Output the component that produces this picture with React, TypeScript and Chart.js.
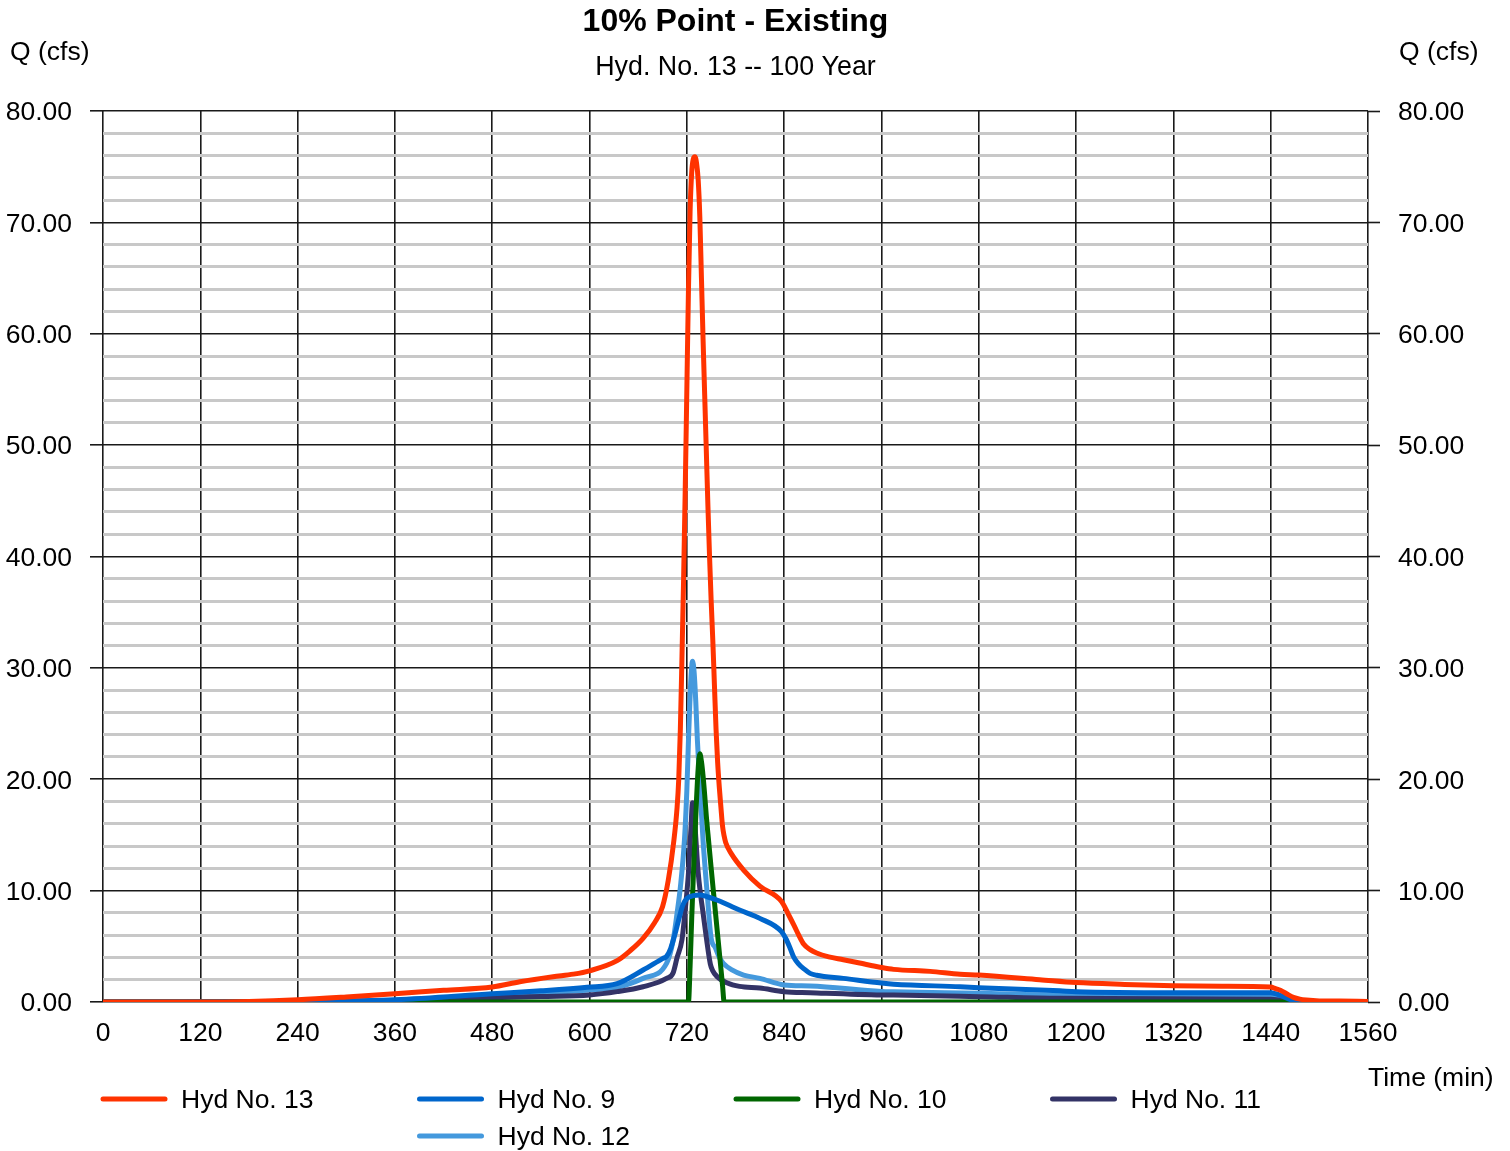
import React, { useEffect, useRef } from 'react';
import { Chart, registerables } from 'chart.js';

Chart.register(...registerables);

const FONT = '"Liberation Sans", Arial, Helvetica, sans-serif';

// Hydrograph ordinates: time (min) and flow (cfs)
const hyd13Time = [0, 120, 180, 240, 300, 360, 420, 480, 514, 555, 580, 600, 634, 650, 666, 680, 690, 697, 704, 708, 710, 712, 714, 716, 718, 720, 722, 724, 726, 728, 730, 732, 734, 736, 738, 740, 742, 744, 746, 748, 750, 752, 754, 756, 758, 760, 762, 764, 766, 768, 775, 790, 810, 837, 845, 852, 858, 864, 872, 880, 895, 913, 933, 960, 975, 1020, 1057, 1080, 1155, 1200, 1260, 1320, 1380, 1440, 1446, 1452, 1460, 1468, 1476, 1484, 1500, 1525, 1560];
const hyd13Flow = [0, 0, 0.05, 0.2, 0.45, 0.74, 1.05, 1.35, 1.82, 2.27, 2.5, 2.8, 3.71, 4.6, 5.72, 7.1, 8.56, 10.9, 14.5, 17.5, 20, 24.5, 31, 38, 46, 55, 64, 71, 74.5, 75.7, 75.9, 75.3, 73.8, 70.5, 65, 59.5, 54.5, 49.5, 44.5, 40, 36, 32.5, 28.5, 24.5, 21.5, 19.3, 17.5, 15.8, 14.9, 14.3, 13.3, 11.85, 10.4, 9.0, 7.9, 6.9, 6.0, 5.2, 4.7, 4.4, 4.05, 3.8, 3.5, 3.1, 2.93, 2.75, 2.5, 2.42, 2.0, 1.74, 1.58, 1.47, 1.42, 1.35, 1.2, 1.05, 0.72, 0.42, 0.26, 0.18, 0.1, 0.08, 0.05];

const hyd9Time = [0, 160, 240, 360, 480, 540, 597, 634, 666, 690, 695, 700, 705, 710, 715, 720, 728, 736, 745, 757, 770, 785, 810, 837, 842, 847, 852, 858, 864, 872, 880, 913, 960, 975, 1057, 1080, 1180, 1200, 1320, 1440, 1446, 1455, 1465, 1478, 1500, 1560];
const hyd9Flow = [0, 0, 0.05, 0.2, 0.74, 1.0, 1.32, 1.65, 2.87, 3.9, 4.1, 4.8, 6.0, 7.4, 8.7, 9.3, 9.55, 9.6, 9.45, 9.16, 8.75, 8.26, 7.51, 6.3, 5.7, 4.9, 4.0, 3.4, 3.0, 2.57, 2.4, 2.12, 1.7, 1.6, 1.37, 1.29, 1.0, 0.93, 0.84, 0.84, 0.75, 0.5, 0.2, 0.03, 0, 0];

const hyd10Time = [0, 722, 724, 726, 728, 730, 732, 734, 736, 738, 740, 742, 744, 746, 750, 754, 758, 762, 764, 766, 1560];
const hyd10Flow = [0, 0, 3.2, 7.5, 11.3, 14.9, 18.3, 21.0, 22.3, 21.6, 20.3, 18.6, 16.7, 15.1, 12.0, 9.0, 6.0, 3.0, 1.5, 0, 0];

const hyd11Time = [0, 240, 360, 452, 480, 540, 600, 634, 666, 695, 703, 708, 714, 718, 722, 725, 727, 729, 731, 734, 737, 740, 744, 749, 752, 757, 770, 785, 810, 840, 872, 960, 975, 1080, 1180, 1440, 1455, 1475, 1560];
const hyd11Flow = [0, 0.02, 0.1, 0.33, 0.38, 0.5, 0.63, 0.93, 1.37, 2.12, 2.6, 4.0, 5.6, 8.3, 11.6, 15.5, 17.9, 17.0, 14.8, 11.6, 9.6, 8.0, 5.8, 3.4, 2.8, 2.3, 1.7, 1.4, 1.25, 0.93, 0.84, 0.63, 0.62, 0.48, 0.33, 0.24, 0.12, 0, 0];

const hyd12Time = [0, 180, 240, 360, 452, 480, 540, 600, 634, 666, 695, 703, 708, 712, 717, 720, 722, 725, 727, 729, 731, 733, 736, 740, 745, 750, 755, 760, 765, 775, 790, 810, 840, 872, 960, 975, 1080, 1180, 1200, 1440, 1450, 1465, 1480, 1560];
const hyd12Flow = [0, 0, 0.03, 0.15, 0.48, 0.55, 0.8, 1.08, 1.32, 2.12, 3.47, 5.5, 8.0, 10.3, 14.5, 19.0, 23.5, 29.0, 30.6, 29.6, 27.0, 23.5, 19.5, 14.5, 9.8, 5.7, 4.9, 4.0, 3.47, 2.9, 2.42, 2.12, 1.53, 1.44, 0.95, 0.92, 0.78, 0.63, 0.63, 0.54, 0.4, 0.12, 0, 0];

const seriesLabels = ['Hyd No. 13', 'Hyd No. 9', 'Hyd No. 10', 'Hyd No. 11', 'Hyd No. 12'];
const seriesColors = ['#ff3300', '#0066cc', '#006600', '#333366', '#4499dd'];
const seriesTimes = [hyd13Time, hyd9Time, hyd10Time, hyd11Time, hyd12Time];
const seriesFlows = [hyd13Flow, hyd9Flow, hyd10Flow, hyd11Flow, hyd12Flow];

const chartTitle = '10% Point - Existing';
const chartSubtitle = 'Hyd. No. 13 -- 100 Year';
const flowAxisTitle = 'Q (cfs)';
const timeAxisTitle = 'Time (min)';

const timeMin = 0;
const timeMax = 1560;
const timeStep = 120;
const flowMin = 0;
const flowMax = 80;
const flowMajorStep = 10;
const flowMinorStep = 2;

// legend cell index for each series (4 cells per row)
const legendCells = [0, 1, 2, 3, 5];

const MAJOR_GRID = '#1a1a1a';
const MINOR_GRID = '#c8c8c8';
const TEXT_SIZE = 26.5;

const textPlugin = {
  id: 'hydrographText',
  afterDraw(chart: any) {
    const { ctx, chartArea } = chart;
    ctx.save();
    ctx.fillStyle = '#000';
    ctx.textBaseline = 'middle';
    ctx.textAlign = 'center';
    const cx = (chartArea.left + chartArea.right) / 2;
    ctx.font = `bold 32px ${FONT}`;
    ctx.fillText(chartTitle, cx, 22);
    ctx.font = `26.8px ${FONT}`;
    ctx.fillText(chartSubtitle, cx, 68);
    ctx.font = `${TEXT_SIZE}px ${FONT}`;
    ctx.textAlign = 'left';
    ctx.fillText(flowAxisTitle, 10, 53);
    ctx.fillText(flowAxisTitle, chartArea.right + 31, 53);
    ctx.fillText(timeAxisTitle, chartArea.right, 1079);

    chart.data.datasets.forEach((ds: any, i: number) => {
      const cell = legendCells[i];
      const col = cell % 4;
      const row = Math.floor(cell / 4);
      const x = 101 + col * 316.5;
      const y = 1099 + row * 37;
      ctx.strokeStyle = ds.borderColor;
      ctx.lineWidth = 5;
      ctx.lineCap = 'round';
      ctx.beginPath();
      ctx.moveTo(x + 2, y);
      ctx.lineTo(x + 64, y);
      ctx.stroke();
      ctx.fillText(ds.label, x + 80, y + 2);
    });
    ctx.restore();
  },
};

export default function App() {
  const canvasRef = useRef<HTMLCanvasElement | null>(null);

  useEffect(() => {
    if (!canvasRef.current) return;
    const isMajor = (v: number) => Math.abs(v % flowMajorStep) < 1e-6;

    const chart = new Chart(canvasRef.current, {
      type: 'line',
      data: {
        datasets: seriesLabels.map((label, i) => ({
          label,
          data: seriesTimes[i].map((t, j) => ({ x: t, y: seriesFlows[i][j] })),
          borderColor: seriesColors[i],
          backgroundColor: seriesColors[i],
          borderWidth: 5,
          pointRadius: 0,
          fill: false,
          cubicInterpolationMode: 'monotone' as const,
          borderCapStyle: 'round' as const,
          borderJoinStyle: 'round' as const,
        })),
      },
      options: {
        animation: false,
        responsive: true,
        maintainAspectRatio: false,
        devicePixelRatio: 1,
        events: [],
        layout: { padding: { top: 111, left: 0, right: 0, bottom: 0 } },
        plugins: {
          legend: { display: false },
          title: { display: false },
          tooltip: { enabled: false },
        },
        scales: {
          x: {
            type: 'linear',
            min: timeMin,
            max: timeMax,
            afterFit: (scale: any) => {
              scale.height = 149;
            },
            ticks: {
              stepSize: timeStep,
              autoSkip: false,
              maxRotation: 0,
              padding: 16,
              color: '#000',
              font: { family: FONT, size: TEXT_SIZE },
              callback: (v: any) => String(Number(v)),
            },
            grid: {
              color: MAJOR_GRID,
              lineWidth: 1.6,
              drawTicks: false,
            },
            border: { display: false },
          },
          y: {
            type: 'linear',
            position: 'left',
            min: flowMin,
            max: flowMax,
            afterFit: (scale: any) => {
              scale.width = 103;
            },
            ticks: {
              stepSize: flowMinorStep,
              autoSkip: false,
              padding: 18,
              labelOffset: 2,
              color: '#000',
              font: { family: FONT, size: TEXT_SIZE },
              callback: (v: any) => (isMajor(Number(v)) ? Number(v).toFixed(2) : ''),
            },
            grid: {
              color: (c: any) => (isMajor(c.tick.value) ? MAJOR_GRID : MINOR_GRID),
              lineWidth: (c: any) => (isMajor(c.tick.value) ? 1.6 : 3),
              tickColor: (c: any) => (isMajor(c.tick.value) ? MAJOR_GRID : 'rgba(0,0,0,0)'),
              tickWidth: 1.6,
              tickLength: 13,
            },
            border: { display: false },
          },
          y2: {
            type: 'linear',
            position: 'right',
            min: flowMin,
            max: flowMax,
            afterFit: (scale: any) => {
              scale.width = 142;
            },
            ticks: {
              stepSize: flowMajorStep,
              autoSkip: false,
              padding: 18,
              labelOffset: 2,
              color: '#000',
              font: { family: FONT, size: TEXT_SIZE },
              callback: (v: any) => Number(v).toFixed(2),
            },
            grid: {
              drawOnChartArea: false,
              color: MAJOR_GRID,
              tickColor: MAJOR_GRID,
              tickWidth: 1.6,
              tickLength: 12,
            },
            border: { display: false },
          },
        },
      } as any,
      plugins: [textPlugin],
    });

    return () => chart.destroy();
  }, []);

  return (
    <div style={{ position: 'fixed', left: 0, top: 0, width: 1510, height: 1151, background: '#fff' }}>
      <canvas ref={canvasRef} />
    </div>
  );
}
